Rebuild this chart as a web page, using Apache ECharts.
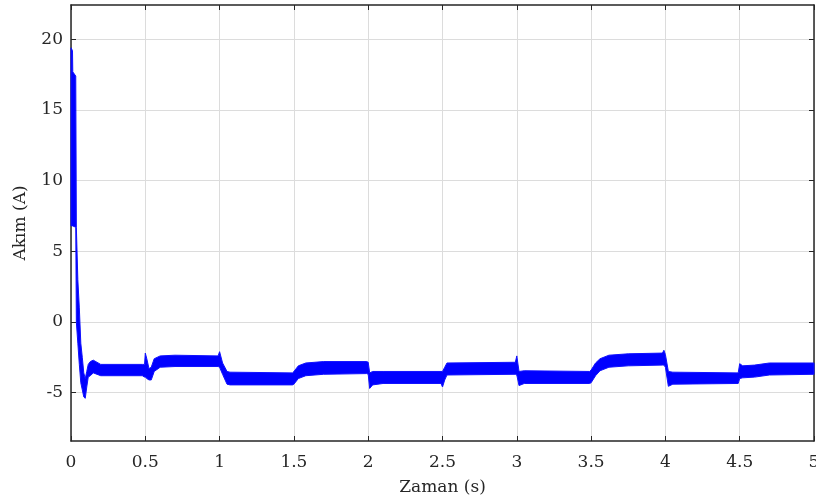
<!DOCTYPE html>
<html>
<head>
<meta charset="utf-8">
<script src="https://cdn.jsdelivr.net/npm/echarts@6/dist/echarts.min.js"></script>
<style>
html,body{margin:0;padding:0;background:#fff;}
#c{width:816px;height:502px;}
</style>
</head>
<body>
<div id="c"></div>
<script>
// Time points (s) and envelope of the current band (A)
var times = [0, 0.010, 0.012, 0.032, 0.036, 0.046, 0.056, 0.066, 0.076, 0.086, 0.096, 0.106, 0.116, 0.13, 0.15,
  0.20, 0.48, 0.495, 0.50, 0.51, 0.525, 0.54, 0.56, 0.60, 0.70, 0.99, 1.00, 1.02, 1.05, 1.07,
  1.49, 1.50, 1.53, 1.58, 1.70, 1.99, 2.00, 2.01, 2.03, 2.10, 2.49, 2.50, 2.515, 2.53,
  2.99, 3.00, 3.015, 3.05, 3.49, 3.50, 3.53, 3.56, 3.62, 3.75, 3.98, 3.99, 4.00, 4.02, 4.05,
  4.49, 4.50, 4.52, 4.60, 4.70, 5.00];
var upper = [19.4, 19.2, 17.7, 17.4, 6.7, 3.0, 1.0, -1.5, -2.5, -3.6, -4.0, -3.5, -3.0, -2.8, -2.7,
  -3.0, -3.0, -3.0, -2.2, -2.6, -3.3, -3.2, -2.6, -2.4, -2.35, -2.4, -2.1, -2.9, -3.5, -3.55,
  -3.6, -3.5, -3.1, -2.9, -2.8, -2.8, -2.85, -3.6, -3.5, -3.5, -3.5, -3.5, -3.2, -2.9,
  -2.85, -2.4, -3.5, -3.45, -3.5, -3.4, -2.9, -2.6, -2.35, -2.25, -2.2, -2.0, -2.3, -3.5, -3.55,
  -3.6, -2.95, -3.1, -3.05, -2.9, -2.9];
var lower = [6.8, 6.8, 6.8, 6.7, 0.0, -1.5, -3.0, -4.3, -4.8, -5.3, -5.4, -4.6, -3.9, -3.8, -3.6,
  -3.8, -3.8, -3.9, -3.9, -4.0, -4.1, -4.1, -3.5, -3.2, -3.15, -3.15, -3.2, -3.7, -4.4, -4.45,
  -4.45, -4.4, -4.0, -3.8, -3.7, -3.65, -3.7, -4.7, -4.45, -4.35, -4.35, -4.6, -4.1, -3.75,
  -3.7, -3.75, -4.5, -4.35, -4.35, -4.3, -3.8, -3.45, -3.2, -3.1, -3.05, -3.05, -3.2, -4.55, -4.4,
  -4.35, -4.0, -3.95, -3.9, -3.75, -3.7];
var xTicks = [0, 0.5, 1, 1.5, 2, 2.5, 3, 3.5, 4, 4.5, 5];
var yTicks = [-5, 0, 5, 10, 15, 20];
var yMin = -8.42, yMax = 22.43;

var font = 'DejaVu Serif';
var ink = '#262626';
var chart = echarts.init(document.getElementById('c'), null, {renderer: 'canvas'});

function xLabel(v) { return String(Math.round(v * 10) / 10); }

chart.setOption({
  animation: false,
  backgroundColor: '#fff',
  grid: {left: 71, right: 2, top: 5, bottom: 61, containLabel: false, outerBoundsMode: 'none'},
  xAxis: [{
    type: 'value', min: 0, max: 5, interval: 0.5, position: 'bottom',
    name: 'Zaman (s)', nameLocation: 'middle', nameGap: 38,
    nameTextStyle: {fontFamily: font, fontSize: 17, color: ink},
    axisLine: {show: true, onZero: false, lineStyle: {color: ink, width: 1.5}},
    axisTick: {show: true, inside: true, length: 5, lineStyle: {color: ink}},
    axisLabel: {fontFamily: font, fontSize: 17, color: ink, margin: 13, formatter: xLabel},
    splitLine: {show: true, lineStyle: {color: '#dcdcdc', width: 1}}
  }, {
    type: 'value', min: 0, max: 5, interval: 0.5, position: 'top',
    axisLine: {show: true, onZero: false, lineStyle: {color: ink, width: 1.5}},
    axisTick: {show: true, inside: true, length: 5, lineStyle: {color: ink}},
    axisLabel: {show: false},
    splitLine: {show: false}
  }],
  yAxis: [{
    type: 'value', min: yMin, max: yMax, position: 'left',
    name: 'Akım (A)', nameLocation: 'middle', nameGap: 42, nameRotate: 90,
    nameTextStyle: {fontFamily: font, fontSize: 17, color: ink},
    axisLine: {show: true, onZero: false, lineStyle: {color: ink, width: 1.5}},
    axisTick: {show: true, inside: true, length: 5, lineStyle: {color: ink}, customValues: yTicks},
    axisLabel: {fontFamily: font, fontSize: 17, color: ink, margin: 8, customValues: yTicks},
    splitLine: {show: true, lineStyle: {color: '#dcdcdc', width: 1}}
  }, {
    type: 'value', min: yMin, max: yMax, position: 'right',
    axisLine: {show: true, onZero: false, lineStyle: {color: ink, width: 1.5}},
    axisTick: {show: true, inside: true, length: 5, lineStyle: {color: ink}, customValues: yTicks},
    axisLabel: {show: false},
    splitLine: {show: false}
  }],
  series: [{
    type: 'custom',
    xAxisIndex: 0, yAxisIndex: 0,
    coordinateSystem: 'cartesian2d',
    data: [[0, 0]],
    encode: {x: 0, y: 1},
    renderItem: function (params, api) {
      var pts = [];
      for (var i = 0; i < times.length; i++) pts.push(api.coord([times[i], upper[i]]));
      for (var j = times.length - 1; j >= 0; j--) pts.push(api.coord([times[j], lower[j]]));
      return {
        type: 'polygon',
        shape: {points: pts},
        style: {fill: '#0000ff', stroke: '#1010ff', lineWidth: 1}
      };
    },
    z: 1
  }]
});
</script>
</body>
</html>
